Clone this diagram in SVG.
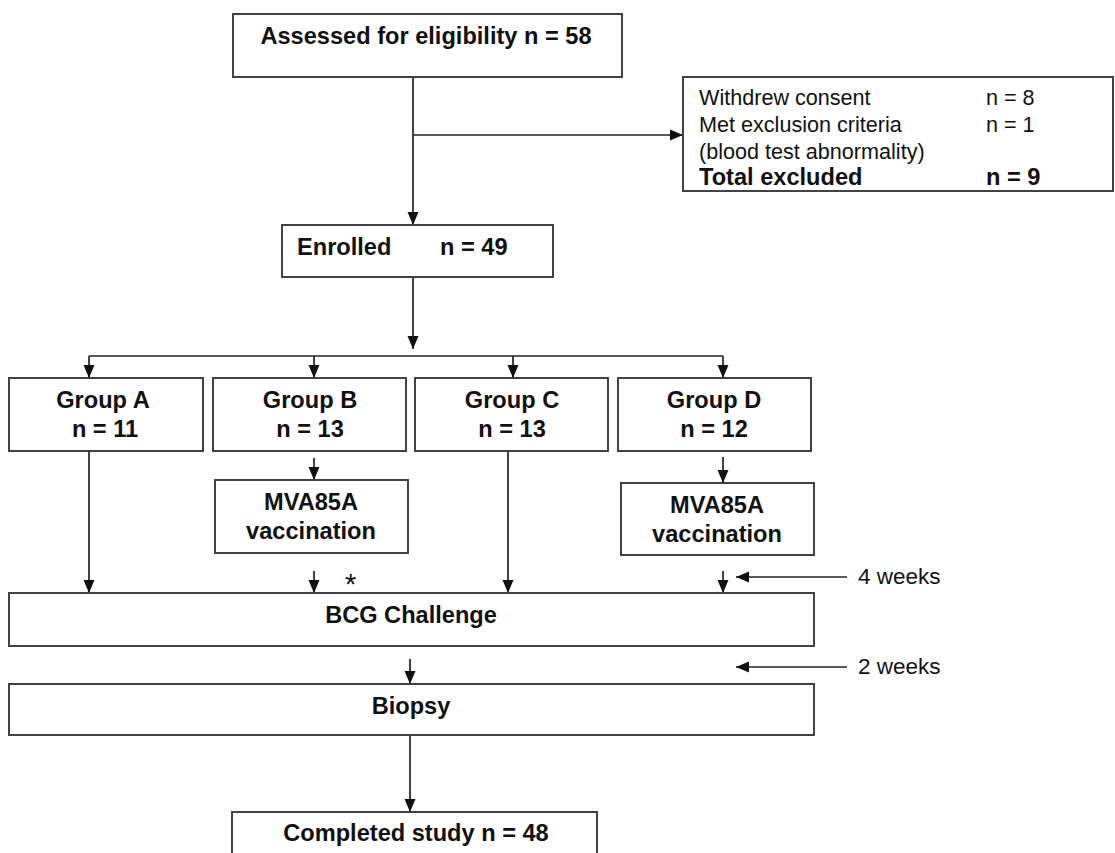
<svg xmlns="http://www.w3.org/2000/svg" width="1115" height="853" viewBox="0 0 1115 853">
<style>
.box{fill:#fff;stroke:#3a3a3a;stroke-width:1.9}
.b{font-family:"Liberation Sans",Arial,sans-serif;font-weight:bold;font-size:23.6px;fill:#111}
.r{font-family:"Liberation Sans",Arial,sans-serif;font-size:21.6px;fill:#111}
.c{text-anchor:middle}
.ln{stroke:#222;stroke-width:1.7;fill:none}
.ar{marker-end:url(#ah)}
</style>
<defs>
<marker id="ah" markerUnits="userSpaceOnUse" markerWidth="13" markerHeight="12" viewBox="0 0 13 12" refX="13" refY="6" orient="auto">
<path d="M0,0.5 L13,6 L0,11.5 Z" fill="#111"/>
</marker>
</defs>
<rect width="1115" height="853" fill="#fff"/>
<g id="connectors">
<path class="ln ar" d="M413,77 V225"/>
<path class="ln ar" d="M413,135 H683"/>
<path class="ln ar" d="M413,277 V349"/>
<path class="ln" d="M89,356 H723"/>
<path class="ln ar" d="M89,356 V378"/>
<path class="ln ar" d="M314,356 V378"/>
<path class="ln ar" d="M513,356 V378"/>
<path class="ln ar" d="M723,356 V378"/>
<path class="ln ar" d="M314,458 V480"/>
<path class="ln ar" d="M723,457 V483"/>
<path class="ln ar" d="M89,451 V593"/>
<path class="ln ar" d="M508,451 V593"/>
<path class="ln ar" d="M314,571 V593"/>
<path class="ln ar" d="M723,571 V593"/>
<path class="ln ar" d="M847,577 H736"/>
<path class="ln ar" d="M410,659 V684"/>
<path class="ln ar" d="M847,667 H736"/>
<path class="ln ar" d="M410,735 V812"/>
</g>
<g id="assessed">
<rect class="box" x="233" y="14" width="389" height="63"/>
<text class="b c" x="426" y="44">Assessed for eligibility n = 58</text>
</g>
<g id="excluded">
<rect class="box" x="683" y="77" width="430" height="114"/>
<text class="r" x="699" y="105">Withdrew consent</text>
<text class="r" x="986" y="105">n = 8</text>
<text class="r" x="699" y="132">Met exclusion criteria</text>
<text class="r" x="986" y="132">n = 1</text>
<text class="r" x="699" y="159">(blood test abnormality)</text>
<text class="b" x="699" y="185">Total excluded</text>
<text class="b" x="986" y="185">n = 9</text>
</g>
<g id="enrolled">
<rect class="box" x="282" y="225" width="271" height="52"/>
<text class="b" x="297" y="255">Enrolled</text>
<text class="b" x="440" y="255">n = 49</text>
</g>
<g id="groupA">
<rect class="box" x="9" y="378" width="194" height="73"/>
<text class="b c" x="103" y="408">Group A</text>
<text class="b c" x="105" y="437">n = 11</text>
</g>
<g id="groupB">
<rect class="box" x="213" y="378" width="193" height="73"/>
<text class="b c" x="310" y="408">Group B</text>
<text class="b c" x="310" y="437">n = 13</text>
</g>
<g id="groupC">
<rect class="box" x="415" y="378" width="193" height="73"/>
<text class="b c" x="512" y="408">Group C</text>
<text class="b c" x="512" y="437">n = 13</text>
</g>
<g id="groupD">
<rect class="box" x="618" y="378" width="193" height="73"/>
<text class="b c" x="714" y="408">Group D</text>
<text class="b c" x="714" y="437">n = 12</text>
</g>
<g id="mvaB">
<rect class="box" x="215" y="480" width="193" height="73"/>
<text class="b c" x="311" y="510">MVA85A</text>
<text class="b c" x="311" y="539">vaccination</text>
</g>
<g id="mvaD">
<rect class="box" x="621" y="483" width="193" height="72"/>
<text class="b c" x="717" y="513">MVA85A</text>
<text class="b c" x="717" y="542">vaccination</text>
</g>
<text id="asterisk" class="r" x="345" y="594" style="font-size:29px">*</text>
<text id="w4" class="r" x="858" y="584" style="font-size:22.5px">4 weeks</text>
<text id="w2" class="r" x="858" y="674" style="font-size:22.5px">2 weeks</text>
<g id="bcg">
<rect class="box" x="9" y="593" width="805" height="53"/>
<text class="b c" x="411" y="623">BCG Challenge</text>
</g>
<g id="biopsy">
<rect class="box" x="9" y="684" width="805" height="51"/>
<text class="b c" x="411" y="714">Biopsy</text>
</g>
<g id="completed">
<rect class="box" x="232" y="812" width="365" height="60"/>
<text class="b c" x="416" y="841">Completed study n = 48</text>
</g>
</svg>
